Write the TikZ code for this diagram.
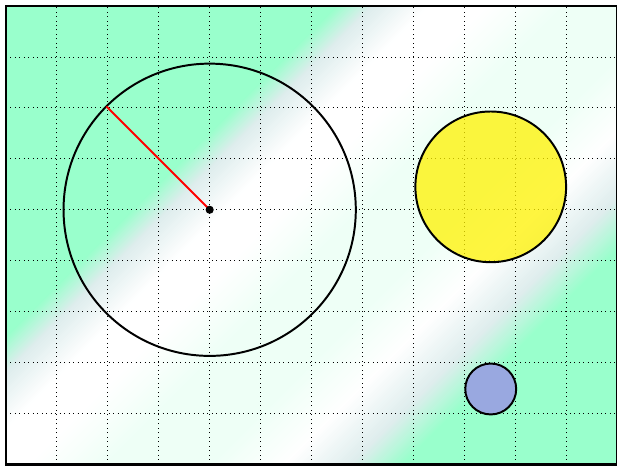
\documentclass[tikz,border=0pt]{standalone}
\usetikzlibrary{calc}
\definecolor{bggreen}{RGB}{153,255,204}
\definecolor{bggray}{RGB}{222,237,237}
\definecolor{bgmint}{RGB}{238,255,246}
\definecolor{disc}{RGB}{153,168,224}
\tikzset{
  gridline/.style={dotted, line width=0.5pt, black},
  framebox/.style={line width=1.4pt, black},
  ring/.style={circle, draw=black, line width=1.1pt, inner sep=0pt, outer sep=0pt},
  radius line/.style={red, line width=1.1pt}
}
\newcommand\fadeband[4]{%
  \foreach \k in {0,...,23}{%
    \pgfmathsetmacro\sa{#1+(#2-#1)*\k/24}%
    \pgfmathsetmacro\sb{#1+(#2-#1)*(\k+1)/24+0.03}%
    \pgfmathtruncatemacro\pc{100-100*(\k+0.5)/24}%
    \fill[#3!\pc!#4] (\sa,-2) rectangle (\sb,18);
  }}
\begin{document}
\begin{tikzpicture}
\useasboundingbox (-0.118,-0.04) rectangle (12.0,9.12);
% background stripes
\begin{scope}
\clip (0,0) rectangle (12,9);
\begin{scope}[rotate=-45, xscale=0.70711]
\fill[bggreen] (-12,-2) rectangle (-2.48,18);
\fadeband{-2.5}{-1.8}{bggreen}{bggray}
\fadeband{-1.8}{-0.7}{bggray}{white}
\fill[white] (-0.7,-2) rectangle (0.52,18);
\fadeband{0.5}{2}{white}{bgmint}
\fill[bgmint] (2,-2) rectangle (4.02,18);
\fadeband{4}{5.5}{bgmint}{white}
\fadeband{5.5}{6.8}{white}{bggray}
\fadeband{6.8}{7.8}{bggray}{bggreen}
\fill[bggreen] (7.8,-2) rectangle (16,18);
\end{scope}
\end{scope}
% grid
\draw[gridline] (0,0) grid[step=1] (12,9);
% shapes
\node[ring, minimum size=5.74cm] (big) at (4,5) {};
\draw[radius line] (big.center) -- (big.135);
\fill[black] (big.center) circle (0.08);
\node[ring, fill=yellow, fill opacity=0.75, minimum size=2.96cm] (sun) at (9.52,5.45) {};
\node[ring, fill=disc, minimum size=1.0cm] (moon) at (9.52,1.48) {};
% frame
\draw[framebox] (0,0) rectangle (12,9);
\end{tikzpicture}
\end{document}
